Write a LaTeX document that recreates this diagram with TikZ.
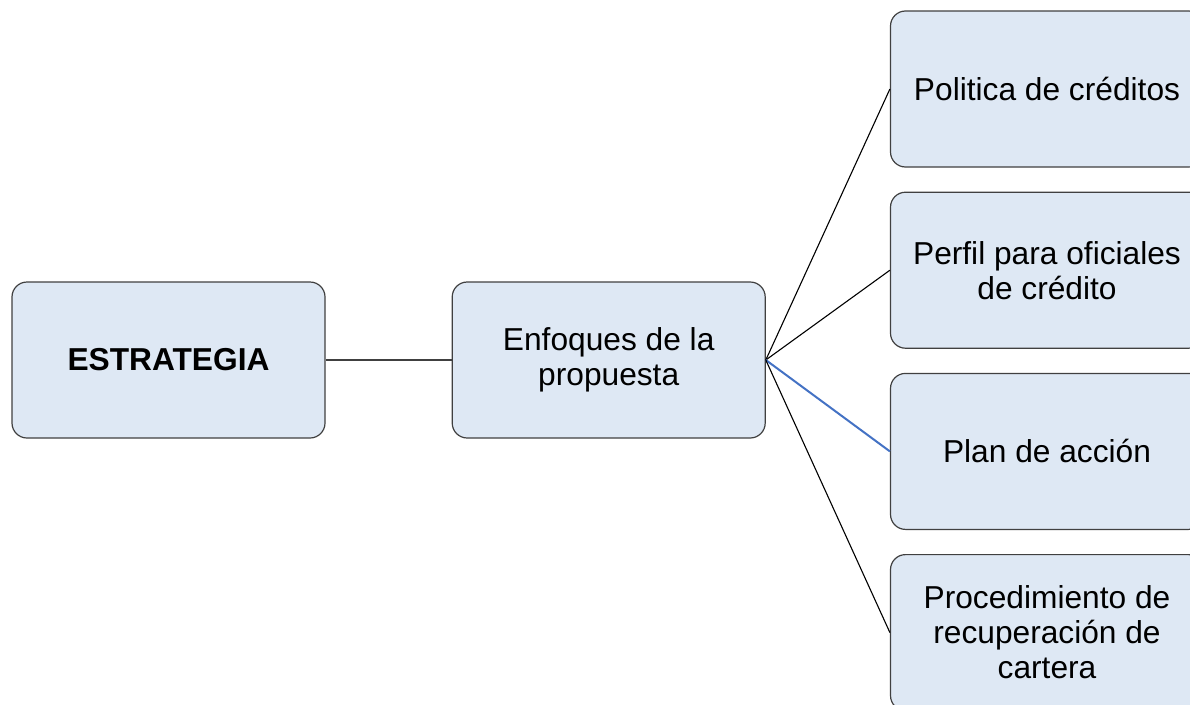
\documentclass[tikz,border=0pt]{standalone}
\usepackage{fontspec}
\setmainfont{Liberation Sans}
\usetikzlibrary{positioning}

\definecolor{azul}{HTML}{4472C4}
\definecolor{relleno}{HTML}{DEE8F4}
\tikzset{
    tema/.style = {rectangle, rounded corners=15pt, draw=black!75, line width=1.2pt,
                   fill=relleno, minimum width=313pt, minimum height=156pt,
                   inner sep=0pt, align=center, font=\fontsize{31.7}{35}\selectfont},
    enlace/.style = {line width=1.1pt, draw=black}
}

\begin{document}
\begin{tikzpicture}[x=1pt, y=-1pt]
    \useasboundingbox (0,0) rectangle (1190,704);
    \clip (0,0) rectangle (1190,704);
    \node[tema] (estr) at (168.5,360) {\textbf{ESTRATEGIA}};
    \node[tema, right=126pt of estr] (enf) {Enfoques de la\\propuesta};

    \node[tema] (r1) at (1047,89) {Politica de créditos};
    \node[tema, below=24pt of r1] (r2) {Perfil para oficiales\\de crédito};
    \node[tema, below=24pt of r2] (r3) {Plan de acción};
    \node[tema, below=24pt of r3] (r4) {Procedimiento de\\recuperación de\\cartera};

    \draw[enlace, draw=black!75, line width=1.3pt] (estr.east) -- (enf.west);
    \draw[enlace] (enf.east) -- (r1.west);
    \draw[enlace] (enf.east) -- (r2.west);
    \draw[enlace, draw=azul, line width=2pt] (enf.east) -- (r3.west);
    \draw[enlace] (enf.east) -- (r4.west);
\end{tikzpicture}
\end{document}
